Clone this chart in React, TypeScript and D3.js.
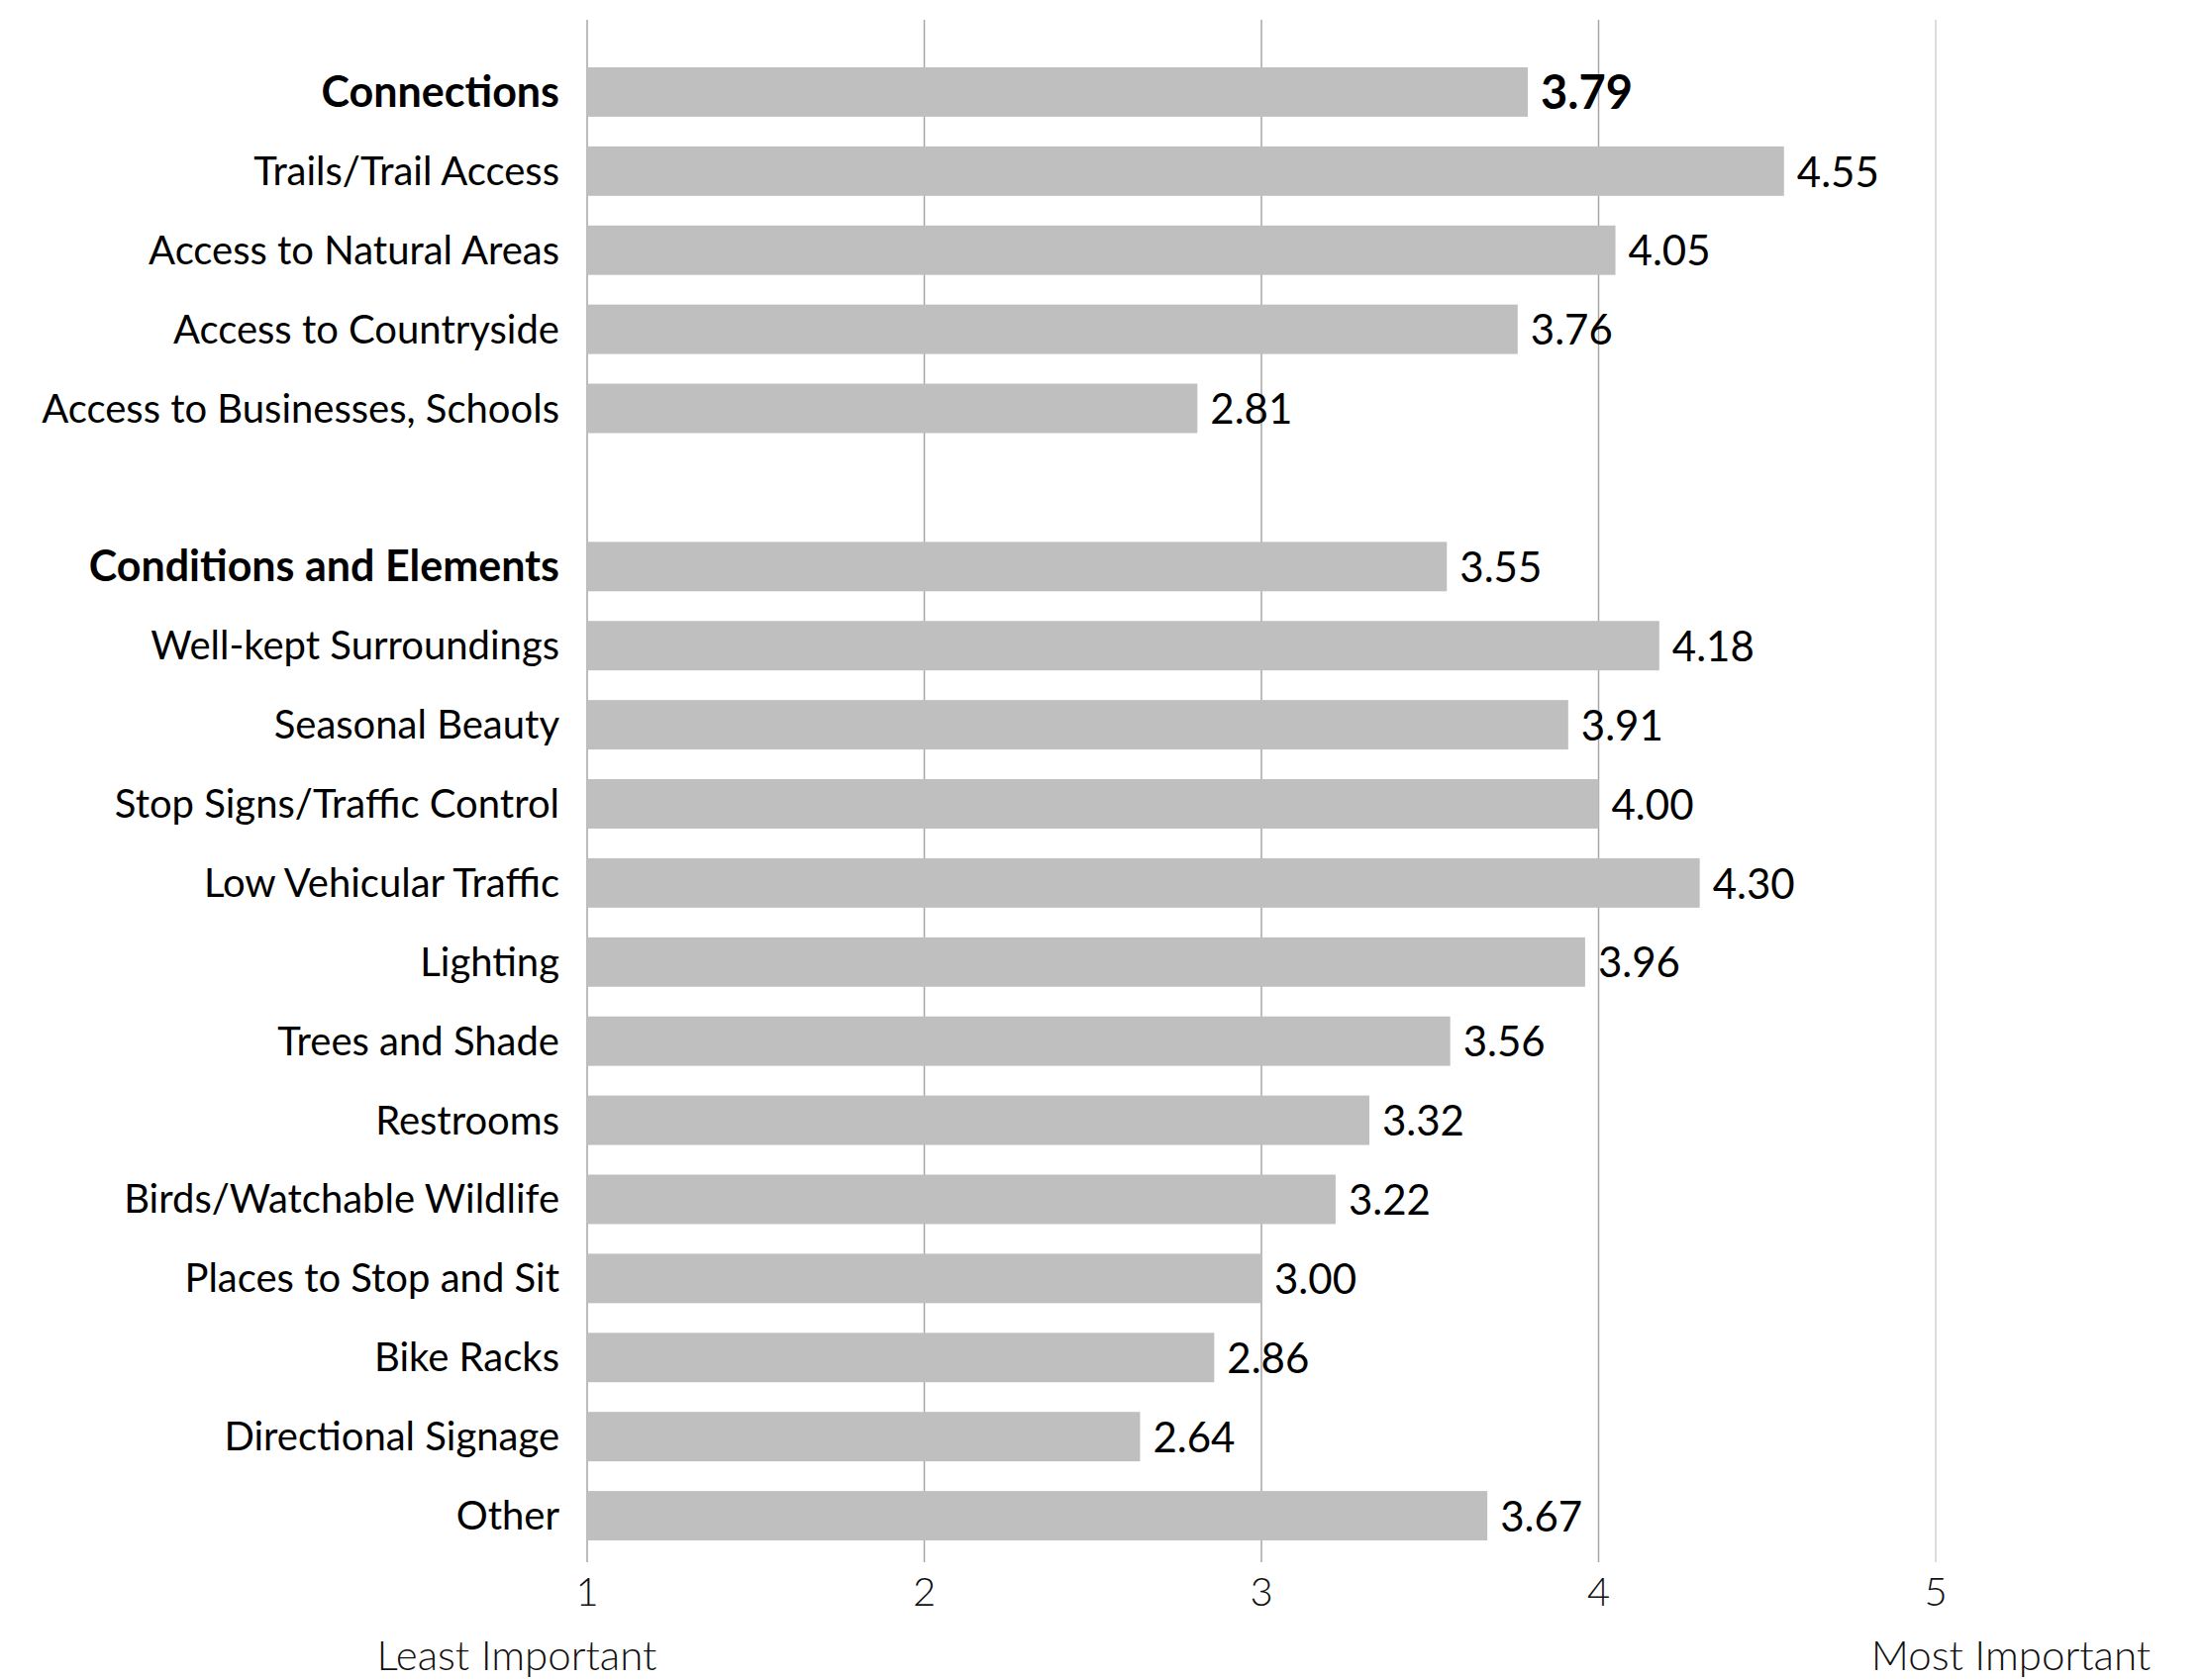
import React from "react";
import * as d3 from "d3";

const categories = [
  "Connections",
  "Trails/Trail Access",
  "Access to Natural Areas",
  "Access to Countryside",
  "Access to Businesses, Schools",
  "",
  "Conditions and Elements",
  "Well-kept Surroundings",
  "Seasonal Beauty",
  "Stop Signs/Traffic Control",
  "Low Vehicular Traffic",
  "Lighting",
  "Trees and Shade",
  "Restrooms",
  "Birds/Watchable Wildlife",
  "Places to Stop and Sit",
  "Bike Racks",
  "Directional Signage",
  "Other",
];
const values: (number | null)[] = [
  3.79, 4.55, 4.05, 3.76, 2.81, null,
  3.55, 4.18, 3.91, 4.0, 4.3, 3.96, 3.56, 3.32, 3.22, 3.0, 2.86, 2.64, 3.67,
];
const headers = ["Connections", "Conditions and Elements"];
const boldValues = ["Connections"];
const ticks = [1, 2, 3, 4, 5];
const endLabels = ["Least Important", "Most Important"];

const W = 2231;
const H = 1697;
const FONT = "Lato, 'Open Sans', sans-serif";

export default function App() {
  const x = d3.scaleLinear().domain([1, 5]).range([593, 1955]);
  const y = d3
    .scaleBand<string>()
    .domain(categories.map((c, i) => c || `gap${i}`))
    .range([53, 1571])
    .paddingInner(0.375)
    .paddingOuter(0.1875);
  const key = (c: string, i: number) => c || `gap${i}`;
  const bw = y.bandwidth();

  return (
    <div style={{ position: "absolute", left: 0, top: 0, background: "#fff" }}>
      <svg width={W} height={H} style={{ display: "block" }}>
        <rect x={0} y={0} width={W} height={H} fill="#fff" />
        {ticks.map((t) => (
          <line
            key={t}
            x1={x(t)}
            x2={x(t)}
            y1={20}
            y2={1578}
            stroke={t === 5 ? "#d0d0d0" : "#a6a6a6"}
            strokeWidth={1.5}
          />
        ))}
        {categories.map((c, i) => {
          const v = values[i];
          if (v == null) return null;
          const yy = y(key(c, i))!;
          const isHeader = headers.includes(c);
          const isBoldVal = boldValues.includes(c);
          return (
            <g key={i}>
              <rect x={x(1)} y={yy} width={x(v) - x(1)} height={bw} fill="#bfbfbf" />
              <text
                x={565}
                y={yy + bw / 2}
                dy="0.35em"
                textAnchor="end"
                fontFamily={FONT}
                fontSize={isHeader ? 43 : 40}
                fontWeight={isHeader ? 700 : 400}
                fill="#000"
              >
                {c}
              </text>
              <text
                x={x(v) + 13}
                y={yy + bw / 2 + 1}
                dy="0.35em"
                fontFamily={FONT}
                fontSize={isBoldVal ? 47 : 42}
                fontWeight={isBoldVal ? 700 : 400}
                fill="#000"
              >
                {v.toFixed(2)}
              </text>
            </g>
          );
        })}
        {ticks.map((t) => (
          <text
            key={t}
            x={x(t)}
            y={1608}
            dy="0.35em"
            textAnchor="middle"
            fontFamily={FONT}
            fontSize={40}
            fontWeight={300}
            fill="#111"
          >
            {t}
          </text>
        ))}
        <text
          x={522}
          y={1672}
          dy="0.35em"
          textAnchor="middle"
          fontFamily={FONT}
          fontSize={42}
          fontWeight={300}
          fill="#111"
        >
          {endLabels[0]}
        </text>
        <text
          x={2031}
          y={1672}
          dy="0.35em"
          textAnchor="middle"
          fontFamily={FONT}
          fontSize={42}
          fontWeight={300}
          fill="#111"
        >
          {endLabels[1]}
        </text>
      </svg>
    </div>
  );
}
